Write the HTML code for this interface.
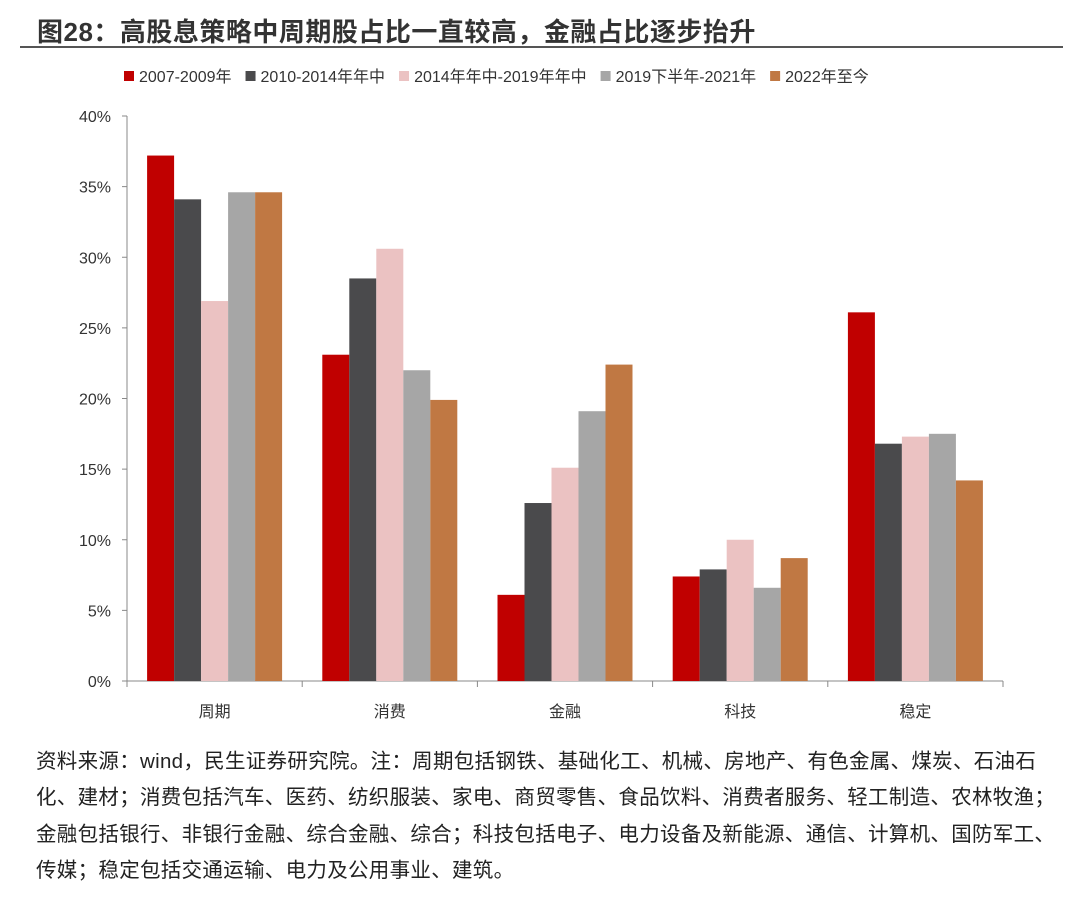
<!DOCTYPE html>
<html><head><meta charset="utf-8"><style>
body{margin:0;background:#fff;width:1080px;height:899px;overflow:hidden;font-family:"Liberation Sans","Noto Sans CJK SC",sans-serif}
#title{position:absolute;left:37px;top:12px;font-size:26px;font-weight:bold;color:#333;letter-spacing:0.5px}
#rule{position:absolute;left:20px;top:46px;width:1043px;height:2px;background:#555}
#note{position:absolute;left:36px;top:744px;width:1020px;font-size:20.5px;line-height:36.3px;color:#222;letter-spacing:0.3px}
</style></head><body>
<div id="title">图28：高股息策略中周期股占比一直较高，金融占比逐步抬升</div>
<div id="rule"></div>
<svg id="chart" width="1080" height="740" style="position:absolute;left:0;top:0"></svg>
<div id="note">资料来源：wind，民生证券研究院。注：周期包括钢铁、基础化工、机械、房地产、有色金属、煤炭、石油石化、建材；消费包括汽车、医药、纺织服装、家电、商贸零售、食品饮料、消费者服务、轻工制造、农林牧渔；金融包括银行、非银行金融、综合金融、综合；科技包括电子、电力设备及新能源、通信、计算机、国防军工、传媒；稳定包括交通运输、电力及公用事业、建筑。</div>
<script>
const categories=["周期","消费","金融","科技","稳定"];
const seriesNames=["2007-2009年","2010-2014年年中","2014年年中-2019年年中","2019下半年-2021年","2022年至今"];
const s1=[37.2,23.1,6.1,7.4,26.1];
const s2=[34.1,28.5,12.6,7.9,16.8];
const s3=[26.9,30.6,15.1,10.0,17.3];
const s4=[34.6,22.0,19.1,6.6,17.5];
const s5=[34.6,19.9,22.4,8.7,14.2];
const yTicks=[0,5,10,15,20,25,30,35,40];
const series=[s1,s2,s3,s4,s5];
const colors=["#C00000","#4A4A4C","#EBC2C2","#A6A6A6","#C07843"];
const NS="http://www.w3.org/2000/svg";
const svg=document.getElementById('chart');
const x0=127,x1=1003,yb=681,yt=116,ymax=40;
const y=v=>yb-(v/ymax)*(yb-yt);
const cw=(x1-x0)/categories.length,bw=27;
function el(t,a,txt){const e=document.createElementNS(NS,t);for(const k in a)e.setAttribute(k,a[k]);if(txt!==undefined)e.textContent=txt;svg.appendChild(e);return e;}
// legend
let lx=124;
seriesNames.forEach((n,i)=>{
 const r=el('rect',{x:lx,y:71,width:10,height:10,fill:colors[i]});
 
 
 const t=el('text',{x:lx+15,y:82,'font-size':16,fill:'#333'},n);
 
 
 lx+=15+t.getComputedTextLength()+14;
});
// y axis
const ya=el('line',{x1:x0,y1:yt,x2:x0,y2:yb,stroke:'#888','stroke-width':1});


yTicks.forEach(v=>{
 const tk=el('line',{x1:x0-5,y1:y(v),x2:x0,y2:y(v),stroke:'#888'});
 
 
 const t=el('text',{x:x0-16,y:y(v)+6,'font-size':16,fill:'#333','text-anchor':'end'},v+'%');
 
 
});
const xa=el('line',{x1:x0,y1:yb,x2:x1,y2:yb,stroke:'#888'});


for(let i=0;i<=categories.length;i++){
 const tk=el('line',{x1:x0+i*cw,y1:yb,x2:x0+i*cw,y2:yb+6,stroke:'#888'});
 
 
}
categories.forEach((c,ci)=>{
 const cx=x0+cw*(ci+0.5);
 series.forEach((s,si)=>{
  const bx=cx-bw*2.5+si*bw;
  const r=el('rect',{x:bx,y:y(s[ci]),width:bw,height:yb-y(s[ci]),fill:colors[si]});
  
  
 });
 const t=el('text',{x:cx,y:717,'font-size':16,fill:'#333','text-anchor':'middle'},c);
 
 
});
</script>
</body></html>
